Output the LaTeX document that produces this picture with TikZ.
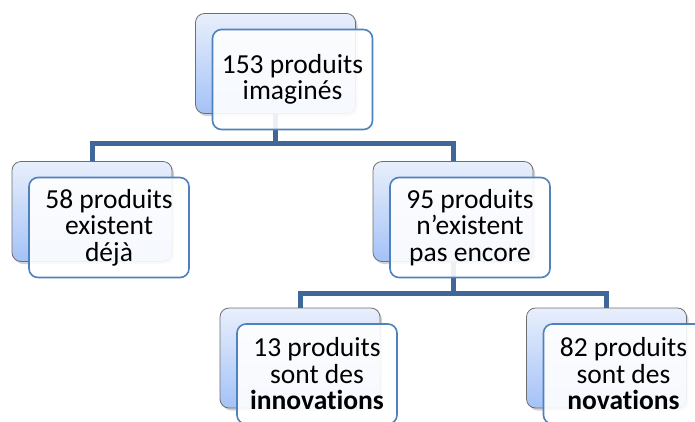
\documentclass[tikz,border=0pt]{standalone}
\usepackage{fontspec}
\setmainfont{Carlito}[Ligatures=NoCommon]
\usetikzlibrary{shadows}
\definecolor{connc}{HTML}{3F6797}
\definecolor{backline}{HTML}{6F6F6F}
\definecolor{backtop}{HTML}{E8EFFC}
\definecolor{backbot}{HTML}{A4C2F7}
\definecolor{frontline}{HTML}{4F81BD}
\begin{document}
\begin{tikzpicture}[x=1pt,y=-1pt,
  backbox/.style={draw=backline, line width=0.8pt, rounded corners=9pt,
    top color=backtop, bottom color=backbot,
    minimum width=160pt, minimum height=100pt, inner sep=0pt,
    drop shadow={shadow xshift=2pt, shadow yshift=-2.5pt, opacity=0.35}},
  frontbox/.style={draw=frontline, line width=1.6pt, rounded corners=9pt,
    fill=white, fill opacity=0.9, text opacity=1,
    minimum width=160pt, minimum height=100pt, inner sep=0pt,
    align=center, font=\fontsize{27.5}{26.5}\selectfont},
  conn/.style={draw=connc, line width=5pt}]
\fill[white] (0,0) rectangle (695,421);
\useasboundingbox (0,0) rectangle (695,421);
% back boxes
\node[backbox] (topb) at (275.5,63.5) {};
\node[backbox] (leftb) at (92,211.5) {};
\node[backbox] (rightb) at (453,211.5) {};
\node[backbox] (blb) at (300,358) {};
\node[backbox] (brb) at (606.5,358) {};
% connectors
\draw[conn] (topb.south) -- ++(0,30) -| (leftb.north);
\draw[conn] (topb.south) -- ++(0,30) -| (rightb.north);
\draw[conn] (rightb.south) -- ++(0,32) -| (blb.north);
\draw[conn] (rightb.south) -- ++(0,32) -| (brb.north);
% front boxes
\node[frontbox] (topf) at (292.5,79.5) {153 produits\\imaginés};
\node[frontbox] (leftf) at (109,227.5) {58 produits\\existent\\déjà};
\node[frontbox] (rightf) at (470,227.5) {95 produits\\n’existent\\pas encore};
\node[frontbox] (blf) at (317,374) {13 produits\\sont des\\\textbf{innovations}};
\node[frontbox] (brf) at (623.5,374) {82 produits\\sont des\\\textbf{novations}};
\end{tikzpicture}
\end{document}
